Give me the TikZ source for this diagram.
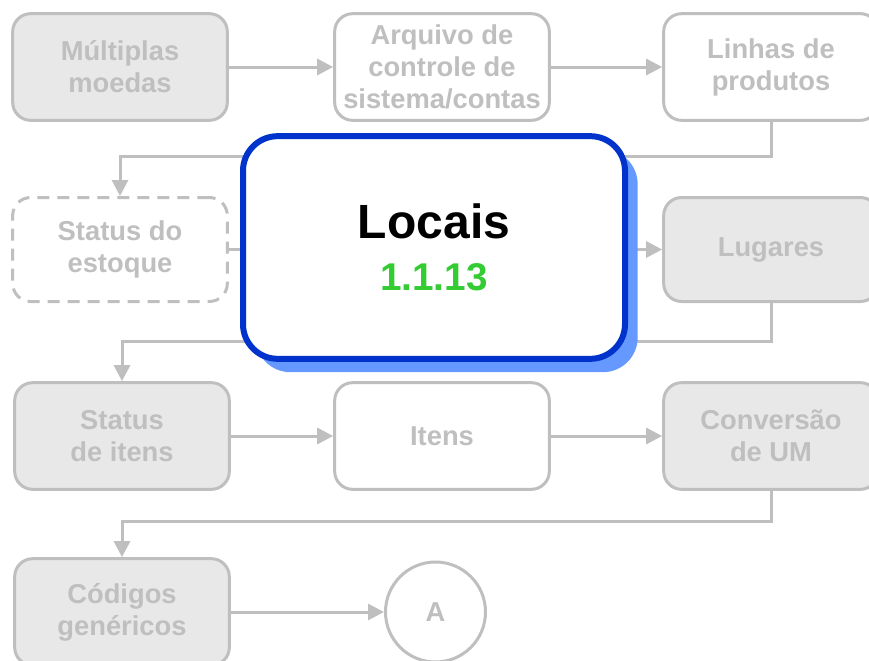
\documentclass[tikz,border=0pt]{standalone}
\usepackage{fontspec}
\setmainfont{Liberation Sans}
\usetikzlibrary{positioning, arrows.meta, shapes.geometric, shadows}
\definecolor{lgray}{HTML}{BFBFBF}
\definecolor{fgray}{HTML}{E8E8E8}
\definecolor{dblue}{HTML}{0033CC}
\definecolor{sblue}{HTML}{6699FF}
\definecolor{lgreen}{HTML}{33CC33}
\tikzset{%
	>={Triangle[length = 12pt, width = 12pt]},
	every edge/.append style={line width = 2.25pt, draw = lgray},
	con/.style = {line width = 2.25pt, draw = lgray, ->},
	box/.style = {name = #1, rectangle, rounded corners = 13.5pt, draw = lgray, line width = 2.25pt, fill = white, minimum width = 161pt, minimum height = 80pt, align = center, text = lgray, font = \bfseries\fontsize{20.5}{24}\selectfont},
	gbox/.style = {box = {#1}, fill = fgray},
	dbox/.style = {box = {#1}, dash pattern = on 9pt off 6pt},
	circ/.style = {name = #1, circle, draw = lgray, line width = 2.25pt, fill = white, minimum size = 75pt, text = lgray, font = \bfseries\fontsize{20.5}{24}\selectfont},
	main/.style = {name = #1, rectangle, rounded corners = 26pt, draw = dblue, line width = 4.5pt, fill = white, minimum width = 286.5pt, minimum height = 167pt, align = center, font = \bfseries\fontsize{36}{39}\selectfont, drop shadow = {shadow xshift = 9.5pt, shadow yshift = -10pt, fill = sblue, opacity = 1}}
}

\begin{document}
\begin{tikzpicture}[x=0.75pt, y=-0.75pt]
			\useasboundingbox (0,0) rectangle (869,661);
			\node [gbox = {moedas}] at (120,67) {Múltiplas\\moedas};
			\node [box = {arquivo}] at (442,67) {Arquivo de\\controle de\\sistema/contas};
			\node [box = {linhas}] at (771,67) {Linhas de\\produtos};
			\node [dbox = {estoque}, minimum height = 78pt] at (120,249.5) {Status do\\estoque};
			\node [gbox = {lugares}, minimum height = 78pt] at (771,249.5) {Lugares};
			\node [gbox = {stitens}] at (122,436) {Status\\de itens};
			\node [box = {itens}] at (442,436) {Itens};
			\node [gbox = {conversao}] at (771,436) {Conversão\\de UM};
			\node [gbox = {codigos}] at (122,612) {Códigos\\genéricos};
			\node [circ = {a}] at (435.5,612) {A};
			\path [->] (moedas) edge (arquivo);
			\path [->] (arquivo) edge (linhas);
			\draw [con] (linhas.south) -- ++(0,35) -| (estoque.north);
			\path [->] (estoque) edge (lugares);
			\draw [con] (lugares.south) -- ++(0,38) -| (stitens.north);
			\path [->] (stitens) edge (itens);
			\path [->] (itens) edge (conversao);
			\draw [con] (conversao.south) -- ++(0,31) -| (codigos.north);
			\path [->] (codigos) edge (a);
			\node [main = {locais}] at (434,247.5) {Locais\\{\fontsize{29}{39}\selectfont\color{lgreen}1.1.13}};
			\end{tikzpicture}
\end{document}
